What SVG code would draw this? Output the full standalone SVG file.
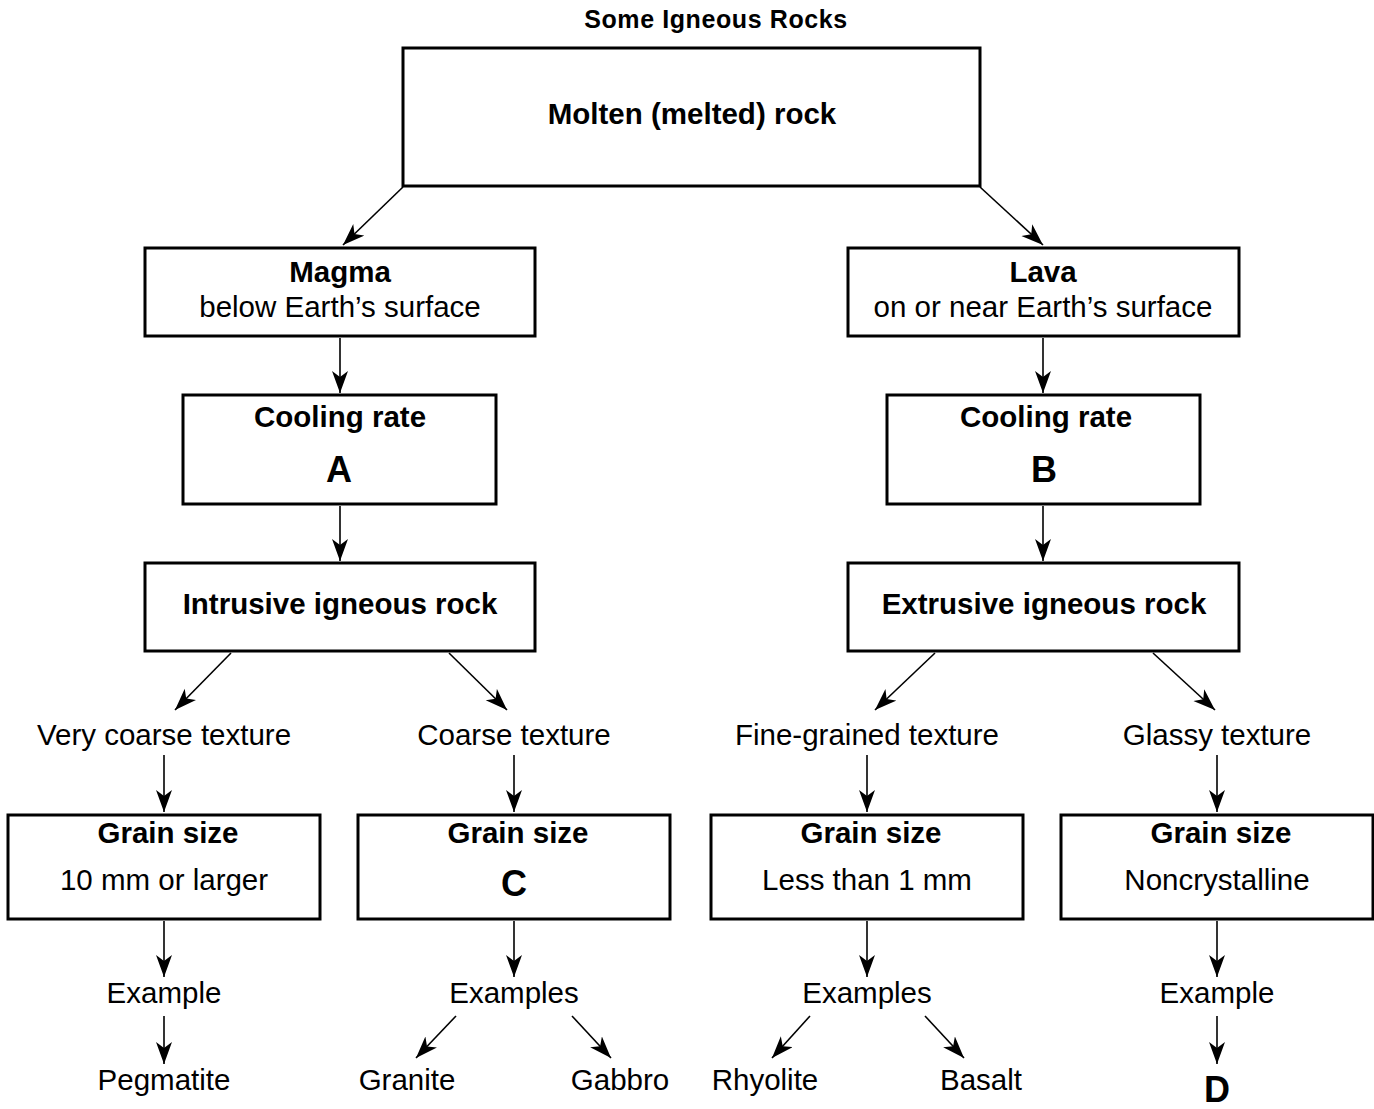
<svg xmlns="http://www.w3.org/2000/svg" width="1374" height="1109" viewBox="0 0 1374 1109">
<style>
text{font-family:"Liberation Sans",Arial,sans-serif;fill:#000;text-anchor:middle}
.b{font-weight:bold}
.t{font-size:29.5px}
.big{font-size:36px;font-weight:bold}
.box{fill:#fff;stroke:#000;stroke-width:3}
.c line{stroke:#000;stroke-width:1.6}
</style>
<defs>
<marker id="ah" markerUnits="userSpaceOnUse" markerWidth="26" markerHeight="18" refX="22" refY="8" orient="auto">
<path d="M0,0 L22,8 L0,16 L6,8 z" fill="#000"/>
</marker>
</defs>
<rect width="1374" height="1109" fill="#fff"/>
<text x="716" y="28" class="b" font-size="25" letter-spacing="0.6">Some Igneous Rocks</text>
<g id="molten"><rect class="box" x="403" y="48" width="577" height="138"/><text x="692" y="124" class="b t">Molten (melted) rock</text></g>
<g id="magma"><rect class="box" x="145" y="248" width="390" height="88"/><text x="340" y="282" class="b t">Magma</text><text x="340" y="317" class="t">below Earth’s surface</text></g>
<g id="lava"><rect class="box" x="848" y="248" width="391" height="88"/><text x="1043" y="282" class="b t">Lava</text><text x="1043" y="317" class="t">on or near Earth’s surface</text></g>
<g id="coolA"><rect class="box" x="183" y="395" width="313" height="109"/><text x="340" y="427" class="b t">Cooling rate</text><text x="339" y="482" class="big">A</text></g>
<g id="coolB"><rect class="box" x="887" y="395" width="313" height="109"/><text x="1046" y="427" class="b t">Cooling rate</text><text x="1044" y="482" class="big">B</text></g>
<g id="intrusive"><rect class="box" x="145" y="563" width="390" height="88"/><text x="340" y="614" class="b t">Intrusive igneous rock</text></g>
<g id="extrusive"><rect class="box" x="848" y="563" width="391" height="88"/><text x="1044" y="614" class="b t">Extrusive igneous rock</text></g>
<g id="vcoarse"><text x="164" y="745" class="t">Very coarse texture</text></g>
<g id="coarse"><text x="514" y="745" class="t">Coarse texture</text></g>
<g id="fine"><text x="867" y="745" class="t">Fine-grained texture</text></g>
<g id="glassy"><text x="1217" y="745" class="t">Glassy texture</text></g>
<g id="grain1"><rect class="box" x="8" y="815" width="312" height="104"/><text x="168" y="843" class="b t">Grain size</text><text x="164" y="890" class="t">10 mm or larger</text></g>
<g id="grain2"><rect class="box" x="358" y="815" width="312" height="104"/><text x="518" y="843" class="b t">Grain size</text><text x="514" y="896" class="big">C</text></g>
<g id="grain3"><rect class="box" x="711" y="815" width="312" height="104"/><text x="871" y="843" class="b t">Grain size</text><text x="867" y="890" class="t">Less than 1 mm</text></g>
<g id="grain4"><rect class="box" x="1061" y="815" width="312" height="104"/><text x="1221" y="843" class="b t">Grain size</text><text x="1217" y="890" class="t">Noncrystalline</text></g>
<g id="ex1"><text x="164" y="1003" class="t">Example</text></g>
<g id="ex2"><text x="514" y="1003" class="t">Examples</text></g>
<g id="ex3"><text x="867" y="1003" class="t">Examples</text></g>
<g id="ex4"><text x="1217" y="1003" class="t">Example</text></g>
<g id="pegmatite"><text x="164" y="1090" class="t">Pegmatite</text></g>
<g id="granite"><text x="407" y="1090" class="t">Granite</text></g>
<g id="gabbro"><text x="620" y="1090" class="t">Gabbro</text></g>
<g id="rhyolite"><text x="765" y="1090" class="t">Rhyolite</text></g>
<g id="basalt"><text x="981" y="1090" class="t">Basalt</text></g>
<g id="d"><text x="1217" y="1102" class="big">D</text></g>
<g class="c">
<line x1="403" y1="187" x2="343" y2="245" marker-end="url(#ah)"/>
<line x1="980" y1="187" x2="1043" y2="245" marker-end="url(#ah)"/>
<line x1="340" y1="338" x2="340" y2="393" marker-end="url(#ah)"/>
<line x1="1043" y1="338" x2="1043" y2="393" marker-end="url(#ah)"/>
<line x1="340" y1="506" x2="340" y2="561" marker-end="url(#ah)"/>
<line x1="1043" y1="506" x2="1043" y2="561" marker-end="url(#ah)"/>
<line x1="231" y1="653" x2="175" y2="710" marker-end="url(#ah)"/>
<line x1="449" y1="653" x2="507" y2="710" marker-end="url(#ah)"/>
<line x1="935" y1="653" x2="875" y2="710" marker-end="url(#ah)"/>
<line x1="1153" y1="653" x2="1215" y2="710" marker-end="url(#ah)"/>
<line x1="164" y1="755" x2="164" y2="812" marker-end="url(#ah)"/>
<line x1="514" y1="755" x2="514" y2="812" marker-end="url(#ah)"/>
<line x1="867" y1="755" x2="867" y2="812" marker-end="url(#ah)"/>
<line x1="1217" y1="755" x2="1217" y2="812" marker-end="url(#ah)"/>
<line x1="164" y1="921" x2="164" y2="977" marker-end="url(#ah)"/>
<line x1="514" y1="921" x2="514" y2="977" marker-end="url(#ah)"/>
<line x1="867" y1="921" x2="867" y2="977" marker-end="url(#ah)"/>
<line x1="1217" y1="921" x2="1217" y2="977" marker-end="url(#ah)"/>
<line x1="164" y1="1016" x2="164" y2="1064" marker-end="url(#ah)"/>
<line x1="456" y1="1016" x2="416" y2="1058" marker-end="url(#ah)"/>
<line x1="572" y1="1016" x2="611" y2="1058" marker-end="url(#ah)"/>
<line x1="810" y1="1016" x2="772" y2="1058" marker-end="url(#ah)"/>
<line x1="925" y1="1016" x2="964" y2="1058" marker-end="url(#ah)"/>
<line x1="1217" y1="1016" x2="1217" y2="1064" marker-end="url(#ah)"/>
</g>
</svg>
